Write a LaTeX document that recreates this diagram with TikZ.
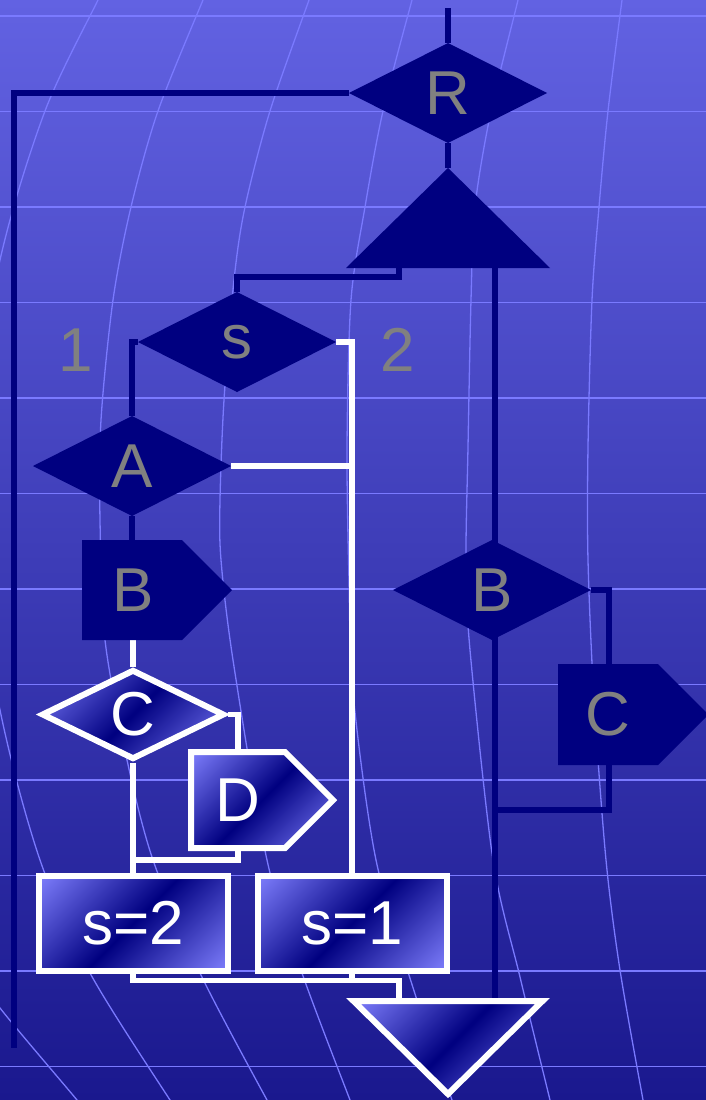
\documentclass[tikz,border=0pt]{standalone}
\usepackage{fontspec}
\setmainfont{Liberation Sans}
\usetikzlibrary{shapes.geometric}
\definecolor{navyc}{RGB}{0,0,128}
\definecolor{bgtop}{RGB}{98,98,226}
\definecolor{bgbot}{RGB}{26,24,142}
\definecolor{gridc}{RGB}{122,122,255}
\definecolor{txtgrey}{RGB}{128,128,128}
\definecolor{lightfill}{RGB}{122,122,248}
\pgfdeclareverticalshading{diagshade}{100bp}{color(0bp)=(lightfill); color(16bp)=(lightfill); color(50bp)=(navyc); color(84bp)=(lightfill); color(100bp)=(lightfill)}
\pgfdeclarelayer{bg}
\pgfdeclarelayer{wires}
\pgfsetlayers{bg,wires,main}
\begin{document}
\begin{tikzpicture}[x=1pt,y=-1pt,
  lbl/.style={font=\fontsize{62}{62}\selectfont},
  navyline/.style={draw=navyc,line width=6pt},
  whiteline/.style={draw=white,line width=5.5pt},
  gridline/.style={draw=gridc,line width=1.8pt},
  curveline/.style={draw=gridc,line width=1.3pt},
  navydia/.style={diamond,fill=navyc,inner sep=0pt,outer sep=0pt,minimum width=198pt,minimum height=100pt,text=txtgrey,lbl},
  gradshade/.style={shade,shading=diagshade,shading angle=45},
  graddia/.style={diamond,draw=white,line width=6pt,gradshade,inner sep=0pt,minimum width=183pt,minimum height=90pt,text=white,lbl},
  gradbox/.style={rectangle,draw=white,line width=6pt,gradshade,inner sep=0pt,minimum width=189pt,minimum height=95pt,text=white,lbl},
  greytext/.style={text=txtgrey,lbl,inner sep=0pt},
  whitetext/.style={text=white,lbl,inner sep=0pt}
]
\useasboundingbox (0,0) rectangle (706,1100);

% ---------- background ----------
\begin{pgfonlayer}{bg}
\shade[top color=bgtop,bottom color=bgbot] (0,0) rectangle (706,1100);
\foreach \yy in {16,111.5,207,302.5,398,493.5,589,684.5,780,875.5,971,1066.5}
  \draw[gridline] (0,\yy) -- (706,\yy);
\draw[curveline] plot[smooth] coordinates {(108,-20) (98,0) (45,111) (0,260) (-38,480) (0,710) (40,860) (90,973) (170,1100) (185,1120)};
\draw[curveline] plot[smooth] coordinates {(212,-20) (203,0) (158,111) (131,207) (113,300) (101,420) (100,520) (105,640) (127,760) (153,860) (200,973) (267,1100) (280,1120)};
\draw[curveline] plot[smooth] coordinates {(316,-20) (309,0) (270,111) (245,207) (234,280) (224,400) (220,500) (221,560) (233,660) (267,860) (302,973) (350,1100) (358,1120)};
\draw[curveline] plot[smooth] coordinates {(418,-20) (412,0) (383,111) (365,207) (351,300) (347,447) (349,580) (353,693) (376,860) (416,997) (452,1100) (459,1120)};
\draw[curveline] plot[smooth] coordinates {(522,-20) (518,0) (491,111) (475,207) (471,300) (468,447) (466,560) (470,650) (493,860) (520,977) (550,1100) (555,1120)};
\draw[curveline] plot[smooth] coordinates {(625,-20) (622,0) (608,111) (599,207) (592,300) (588,447) (588,560) (594,700) (606,860) (620,970) (643,1100) (647,1120)};
\draw[curveline] plot[smooth] coordinates {(-40,950) (0,1008) (77,1100) (92,1120)};
\end{pgfonlayer}

% ---------- shapes ----------
\node[navydia] (R) at (448,93) {R};
\node[navydia] (s) at (237,342) {s};
\node[navydia] (A) at (132,466) {A};
\node[navydia] (Bd) at (492,590) {B};
\node[graddia] (C) at (133,714.5) {C};
\node[gradbox] (s2) at (133,923.5) {s=2};
\node[gradbox] (s1) at (352,923.5) {s=1};
\node[greytext] (one) at (76,350) {1};
\node[greytext] (two) at (398,350) {2};

\fill[navyc] (346,268) -- (550,268) -- (448,168) -- cycle;
\fill[navyc] (82,540) -- (182,540) -- (232,590) -- (182,640) -- (82,640) -- cycle;
\node[greytext] (B1) at (133,590) {B};
\fill[navyc] (558,664) -- (658,664) -- (708.5,714.5) -- (658,765) -- (558,765) -- cycle;
\node[greytext] (Cr) at (608,714.5) {C};
\path[draw=white,line width=6pt,gradshade] (191,752) -- (285,752) -- (333,800) -- (285,848) -- (191,848) -- cycle;
\node[whitetext] (D) at (238,800) {D};
\path[draw=white,line width=6pt,gradshade] (353.5,1001) -- (542.5,1001) -- (448,1094) -- cycle;

% ---------- connection points ----------
\coordinate (topc) at (448,8);
\coordinate (loopend) at (14,1048);
\coordinate (t1apex) at (448,168);
\coordinate (t1l) at (399,266);
\coordinate (t1r) at (494.5,266);
\coordinate (t2r) at (494.5,1001);
\coordinate (t2l) at (399,1001);
\coordinate (b1top) at (132,540);
\coordinate (b1bot) at (133,640);
\coordinate (crtop) at (609,664);
\coordinate (crbot) at (609,765);
\coordinate (crjoin) at (494.5,810);
\coordinate (dtop) at (238,752);
\coordinate (dbot) at (238,848);

% ---------- connectors ----------
\begin{pgfonlayer}{wires}
\draw[navyline] (topc) -- (R.north);
\draw[navyline] (R.south) -- (t1apex);
\draw[navyline] (R.west) -| (loopend);
\draw[navyline] (t1l) -- ++(0,11) -| (s.north);
\draw[navyline] (t1r) -- (t2r);
\draw[navyline] (s.west) -| (A.north);
\draw[navyline] (A.south) -- (b1top);
\draw[navyline] (Bd.east) -| (crtop);
\draw[navyline] (crbot) |- (crjoin);
\draw[whiteline] (s.east) -| (s1.north);
\draw[whiteline] (A.east) -- (A.east -| s1.north);
\draw[whiteline] (b1bot) -- (C.north);
\draw[whiteline] (C.east) -| (dtop);
\draw[whiteline] (C.south) -- (s2.north);
\draw[whiteline] (dbot) -- ++(0,12) -| (s2.north);
\draw[whiteline] (s2.south) -- ++(0,6.5) -| (t2l);
\draw[whiteline] (s1.south) -- ++(0,6.5);
\end{pgfonlayer}
\end{tikzpicture}
\end{document}
